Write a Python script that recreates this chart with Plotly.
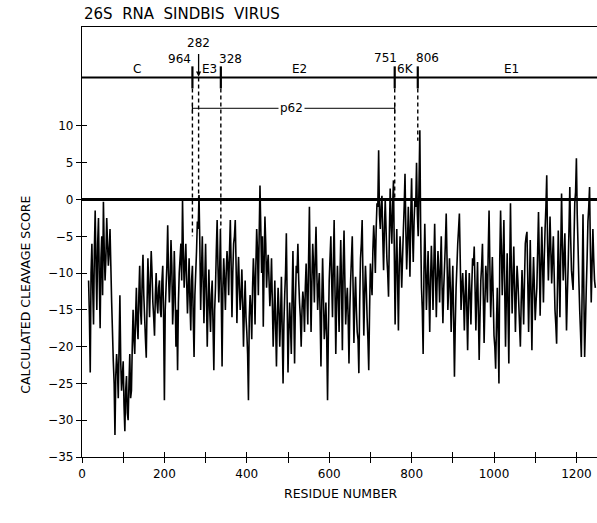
import plotly.graph_objects as go

# ---------------- data ----------------
# scores read every 4 residues starting at residue 16 (peaks / troughs of the trace)
start_residue = 16
step = 4
scores = [
    -11, -23.5, -6, -17, -1.5, -15, -2.5, -17.5, -5, -0.3,
    -11, -2.5, -9, -4, -14, -22, -32, -21, -27, -13,
    -26, -22, -31.5, -24, -30, -21, -26, -15, -21, -12,
    -19, -9, -17, -7.5, -16, -21.5, -8, -16, -7, -14,
    -18.5, -10, -15.5, -11, -16, -9, -27.3, -12, -3.5, -14,
    -5.5, -17, -7, -20, -23.2, -10, -6, -0.1, -12, -6,
    -15.5, -8, -17.8, -9, -21.4, -10, -3, 0.6, -15, -5,
    -16.8, -6, -20, -9.5, -18, -11, -23.2, -12, -2.8, -14,
    -4, -22.7, -8, -15, -7, -13, -2.8, -16, -6, -2.8,
    -16.8, -7.8, -15, -9.5, -20, -11, -18, -27.3, -13, -19,
    -8, -17, -4, -13, 1.9, -10, -17.3, -2.3, -12, -7.5,
    -14.5, -8, -20, -11, -22.7, -12, -20, -10.5, -25, -13,
    -4.6, -23.5, -14, -21, -7, -22.3, -9, -6, -14, -20,
    -12.5, -18, -8.7, -17, -1, -18, -6, -14, -3.7, -15,
    -10, -22.7, -8, -19, -14, -27.3, -11, -5, -16, -2.8,
    -21, -9, -18, -5.5, -20.5, -4.2, -17, -12, -22.3, -11,
    -5, -19.5, -10.5, -18, -23.6, -8, -2.8, -18.5, -9, -16,
    -23.2, -8.7, -13, -3.5, -10, -0.5, 6.7, -4, 0.5, -9.6,
    0, -8, -13.2, 1.5, -6, 2.6, -17, -4, -17.8, -5,
    -12, -4.2, 3.5, -9.5, -1, -10.5, 2.9, -8.5, 0, 5,
    -5, 9.4, -12, -21, -3.3, -15, -7, -18, -6.3, -15,
    -3.3, -16, -7, -14, -5, -16.8, -9, -1.9, -15, -8,
    -18, -9, -24.1, -12, -6, -1.9, -15, -10, -17.8, -9.6,
    -20.5, -10, -17, -8, -6.4, -17.8, -8.5, -21.8, -11, -6,
    -19.5, -9, -14, -1.5, -16, -7.8, -18.5, -23, -12, -25,
    -1.5, -13, -2.8, -20, -7.3, -22.3, -0.5, -15.5, -6.4, -18,
    -9, -14, -20, -9.6, -17, -6, -4.4, -18, -5.5, -20.5,
    -7.8, -16.4, -12, -1.7, -15.8, -3.7, -14, -4, 3.3, -11,
    -2.3, -11.4, -5, -15, -19.6, -4.2, -16, 0.8, -11, -4.6,
    -17.8, -9, 1.7, -9.6, -12.3, -0.5, 5.6, -6.4, -15, -21.4,
    -2, -21.4, -12, -3, 1.7, -14, -4, -11,
]
# scores read at the residues in between (residue 18, 22, ...), the dense core of the band
scores_between = [
    -16, -10, -12, -7, -9, -6, -11, -8, -13, -7,
    -8, -6, -7, -9, -18, -25, -24, -23, -20, -22,
    -24, -28, -26, -29, -25, -27, -20, -19, -16, -17,
    -13, -15, -11, -13, -19, -14, -12, -11, -10, -16,
    -13, -14, -12, -15, -11, -16, -15, -9, -10, -11,
    -9, -14, -12, -15, -14, -8, -11, -7, -9, -11,
    -12, -14, -11, -16, -13, -7, -4, -6, -10, -11,
    -11, -13, -14, -15, -13, -17, -15, -7, -9, -10,
    -13, -12, -11, -10, -9, -7, -9, -10, -5, -9,
    -11, -12, -13, -14, -15, -16, -21, -16, -15, -12,
    -11, -9, -7, -5, -4, -5, -9, -6, -9, -11,
    -12, -14, -16, -17, -16, -15, -16, -18, -17, -10,
    -14, -18, -17, -13, -15, -14, -10, -11, -16, -15,
    -14, -12, -13, -8, -11, -11, -9, -8, -10, -12,
    -16, -14, -13, -17, -19, -18, -8, -11, -9, -12,
    -14, -13, -11, -12, -9, -11, -14, -16, -15, -8,
    -12, -14, -15, -19, -14, -6, -11, -13, -12, -19,
    -15, -11, -7, -6, -4, -1, -2, -1, -5, -4,
    -4, -10, -5, -3, -1, -7, -9, -11, -9, -8,
    -8, -1, -4, -6, -5, -2, -4, -3, -1, -2,
    2, -4, -15, -10, -9, -11, -12, -11, -10, -9,
    -10, -11, -10, -9, -12, -12, -6, -8, -12, -12,
    -13, -16, -17, -9, -4, -8, -12, -13, -13, -15,
    -14, -13, -12, -9, -12, -13, -15, -16, -9, -13,
    -14, -11, -7, -9, -12, -13, -20, -17, -18, -8,
    -7, -8, -12, -13, -15, -10, -9, -11, -12, -13,
    -11, -17, -14, -13, -11, -5, -11, -12, -13, -12,
    -12, -14, -7, -8, -9, -9, -8, -1, -6, -7,
    -7, -8, -10, -17, -12, -10, -7, -6, -8, -11,
    -13, -4, -5, -11, -6, 1, -2, -11, -18, -12,
    -12, -17, -8, -1, -7, -9, -8, -12,
]

residues, values = [], []
for i, (a, b) in enumerate(zip(scores, scores_between)):
    residues += [start_residue + step * i, start_residue + step * i + step // 2]
    values += [a, b]

x_ticks = list(range(0, 1300, 100))
x_tick_text = [str(v) if v % 200 == 0 else "" for v in x_ticks]
y_ticks = list(range(-35, 15, 5))
y_tick_text = [("\u2212" + str(-v)) if v < 0 else str(v) for v in y_ticks]

x_range = [0, 1250]
y_range = [-35, 23.45]

gene_bar_y = 16.6
gene_names = ["C", "E3", "E2", "6K", "E1"]
gene_label_x = [134, 310, 528, 786, 1043]
gene_label_y = 17.8

site_x = [268, 283, 337, 759, 815]
site_text = ["964", "282", "328", "751", "806"]
site_text_x = [237, 283, 361, 737, 839]
site_text_y = [19.1, 21.3, 19.1, 19.2, 19.2]
dash_end_y = [-5, 0, -4, 0, 8]

p62_from, p62_to, p62_y = 268, 759, 12.4

FONT = "DejaVu Sans"

fig = go.Figure()
fig.add_trace(go.Scatter(x=residues, y=values, mode="lines",
                         line=dict(color="black", width=1.6, simplify=False),
                         hoverinfo="skip", showlegend=False))
fig.add_trace(go.Scatter(x=[None], y=[None], xaxis="x2", yaxis="y2",
                         showlegend=False, hoverinfo="skip"))

shapes = []
shapes.append(dict(type="line", xref="x", yref="y", x0=x_range[0], x1=x_range[1],
                   y0=gene_bar_y, y1=gene_bar_y, line=dict(color="black", width=2)))
for i, sx in enumerate(site_x):
    if site_text[i] != "282":
        shapes.append(dict(type="line", xref="x", yref="y", x0=sx, x1=sx,
                           y0=gene_bar_y - 1.5, y1=gene_bar_y + 1.5,
                           line=dict(color="black", width=2.2)))
        top = gene_bar_y - 1.5
    else:
        top = gene_bar_y
    shapes.append(dict(type="line", xref="x", yref="y", x0=sx, x1=sx,
                       y0=top, y1=dash_end_y[i],
                       line=dict(color="black", width=1.4, dash="4px,3px")))
shapes.append(dict(type="line", xref="x", yref="y", x0=p62_from, x1=p62_to,
                   y0=p62_y, y1=p62_y, line=dict(color="black", width=1)))
for px in (p62_from, p62_to):
    shapes.append(dict(type="line", xref="x", yref="y", x0=px, x1=px,
                       y0=p62_y - 0.7, y1=p62_y + 0.7, line=dict(color="black", width=1.2)))

ann = []
ann.append(dict(text="26S\u00a0\u00a0RNA\u00a0\u00a0SINDBIS\u00a0\u00a0VIRUS", xref="paper", yref="paper",
                x=0, y=1, xanchor="left", yanchor="bottom", yshift=2, showarrow=False,
                font=dict(family=FONT, size=15, color="black")))
for name, gx in zip(gene_names, gene_label_x):
    ann.append(dict(text=name, x=gx, y=gene_label_y, xref="x", yref="y", showarrow=False,
                    font=dict(family=FONT, size=12, color="black")))
for t, tx, ty in zip(site_text, site_text_x, site_text_y):
    ann.append(dict(text=t, x=tx, y=ty, xref="x", yref="y", showarrow=False,
                    font=dict(family=FONT, size=12, color="black")))
ann.append(dict(text="", x=site_x[1], y=gene_bar_y + 0.1, ax=site_x[1], ay=gene_bar_y + 3.4,
                xref="x", yref="y", axref="x", ayref="y", showarrow=True,
                arrowhead=2, arrowsize=0.8, arrowwidth=1.3, arrowcolor="black"))
ann.append(dict(text="p62", x=(p62_from + p62_to) / 2 - 4, y=p62_y, xref="x", yref="y",
                showarrow=False, bgcolor="white", borderpad=1,
                font=dict(family=FONT, size=12, color="black")))
ann.append(dict(text="CALCULATED CLEAVAGE SCORE", xref="paper", yref="y",
                x=-0.128, y=-13, textangle=-90, showarrow=False,
                font=dict(family=FONT, size=12.5, color="black")))
ann.append(dict(text="RESIDUE NUMBER", xref="paper", yref="paper",
                x=0.503, y=-0.108, showarrow=False,
                font=dict(family=FONT, size=12.5, color="black")))

axis_common = dict(showgrid=False, color="black",
                   tickfont=dict(family=FONT, size=12, color="black"))

fig.update_layout(
    width=597, height=523,
    margin=dict(l=82, r=0, t=27, b=66),
    paper_bgcolor="white", plot_bgcolor="white",
    font=dict(family=FONT, size=12, color="black"),
    shapes=shapes, annotations=ann,
    xaxis=dict(range=x_range, tickvals=x_ticks, ticktext=x_tick_text,
               ticks="outside", ticklen=5, tickwidth=1, tickcolor="black",
               showline=True, linecolor="black", linewidth=1.3, mirror=True,
               zeroline=False, automargin=False, **axis_common),
    yaxis=dict(range=y_range, tickvals=y_ticks, ticktext=y_tick_text,
               ticks="outside", ticklen=5, tickwidth=1, tickcolor="black",
               showline=True, linecolor="black", linewidth=1.3,
               zeroline=True, zerolinecolor="black", zerolinewidth=3,
               automargin=False, **axis_common),
    xaxis2=dict(range=x_range, overlaying="x", anchor="y2", tickvals=x_ticks,
                ticks="inside", ticklen=5, tickwidth=1, tickcolor="black",
                showticklabels=False, showline=False, showgrid=False, zeroline=False),
    yaxis2=dict(range=y_range, overlaying="y", anchor="x2", side="left", tickvals=y_ticks,
                ticks="inside", ticklen=5, tickwidth=1, tickcolor="black",
                showticklabels=False, showline=False, showgrid=False, zeroline=False),
)

fig.write_html("out.html", config={"displayModeBar": False},
               post_script="document.body.style.margin='0';document.body.style.overflow='hidden';")
